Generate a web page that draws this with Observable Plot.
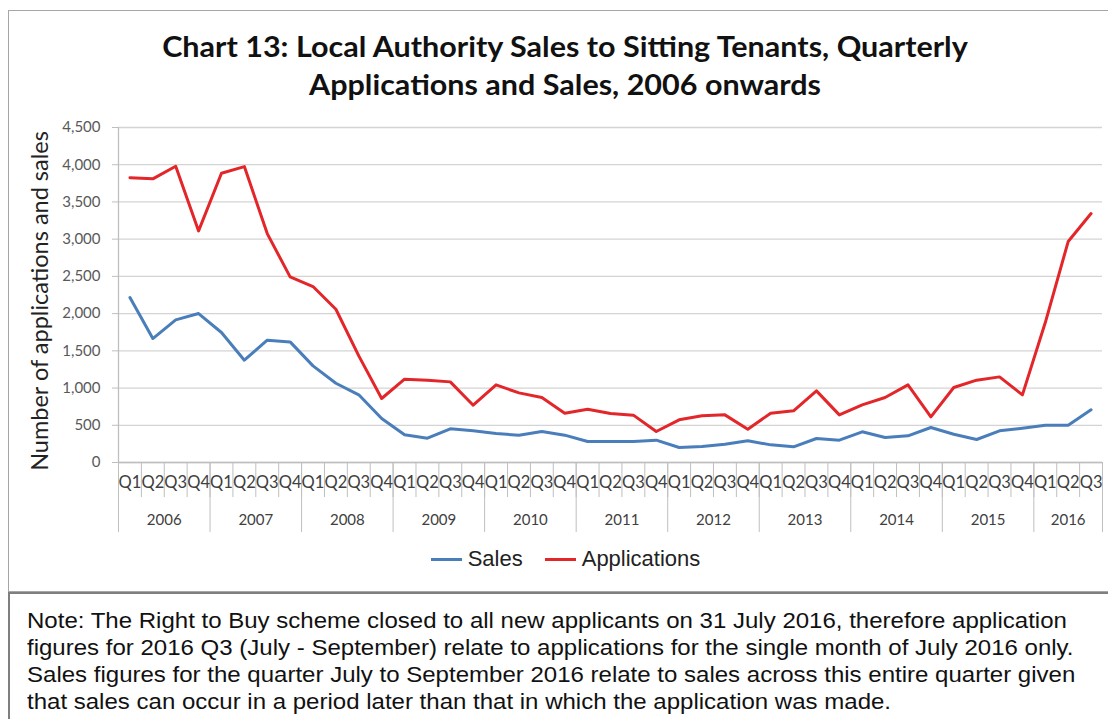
<!DOCTYPE html>
<html>
<head>
<meta charset="utf-8">
<script src="https://cdn.jsdelivr.net/npm/d3@7"></script>
<script src="https://cdn.jsdelivr.net/npm/@observablehq/plot@0.6"></script>
<style>
  html, body { margin: 0; padding: 0; background: #fff; }
  #wrap { position: relative; width: 1108px; height: 719px; overflow: hidden; background: #fff; }
  #frame { position: absolute; left: 8px; top: 10px; width: 1120px; height: 582px; border: 1.5px solid #a6a6a6; box-sizing: border-box; }
  #title { position: absolute; left: 0; width: 1130px; top: 27px; text-align: center; font-family: Lato, sans-serif; font-weight: bold; font-size: 28px; line-height: 38px; color: #111; transform: scaleX(1.09); transform-origin: 565px 0; }
  #ylabel { position: absolute; left: 39px; top: 301px; transform: translate(-50%, -50%) rotate(-90deg); white-space: nowrap; font-family: Lato, sans-serif; font-size: 23.5px; color: #222; }
  #chart { position: absolute; left: 0; top: 0; }
  #legend { position: absolute; left: 0; width: 1131px; top: 546px; text-align: center; font-family: "Liberation Sans", Arial, sans-serif; font-size: 22px; color: #222; }
  #legend span.item { display: inline-block; margin: 0 11px; }
  #legend span.sw { display: inline-block; width: 31px; height: 3px; vertical-align: middle; margin-right: 6px; position: relative; top: -1px; }
  #note { position: absolute; left: 8px; top: 592px; width: 1130px; height: 140px; border-top: 2px solid #7f7f7f; border-left: 2px solid #7f7f7f; box-sizing: border-box; }
  #notetext { position: absolute; left: 17px; top: 13px; white-space: nowrap; font-family: "Liberation Sans", Arial, sans-serif; font-size: 22px; line-height: 27px; color: #111; transform: scaleX(1.092); transform-origin: 0 0; }
</style>
</head>
<body>
<div id="wrap">
  <div id="frame"></div>
  <div id="chart"></div>
  <div id="title">Chart 13: Local Authority Sales to Sitting Tenants, Quarterly<br>Applications and Sales, 2006 onwards</div>
  <div id="ylabel">Number of applications and sales</div>
  <div id="legend"></div>
  <div id="note"><div id="notetext">Note: The Right to Buy scheme closed to all new applicants on 31 July 2016, therefore application<br>figures for 2016 Q3 (July - September) relate to applications for the single month of July 2016 only.<br>Sales figures for the quarter July to September 2016 relate to sales across this entire quarter given<br>that sales can occur in a period later than that in which the application was made.</div></div>
</div>
<script>
// ---- Data ----
const years = ["2006","2007","2008","2009","2010","2011","2012","2013","2014","2015","2016"];
const quarterNames = ["Q1","Q2","Q3","Q4"];
// 2006 Q1 ... 2016 Q3 (43 quarters)
const sales = [
  2216, 1665, 1916, 2001,
  1746, 1374, 1643, 1620,
  1298, 1065, 909, 591,
  372, 327, 452, 425,
  389, 367, 416, 367,
  282, 282, 282, 300,
  201, 215, 246, 291,
  237, 210, 322, 300,
  412, 336, 358, 470,
  380, 309, 425, 461,
  501, 501, 707
];
const applications = [
  3825, 3810, 3980, 3111,
  3886, 3975, 3075, 2493,
  2364, 2059, 1432, 860,
  1119, 1106, 1083, 770,
  1043, 935, 873, 662,
  716, 658, 636, 416,
  573, 627, 640, 448,
  662, 694, 962, 640,
  774, 873, 1043, 613,
  1007, 1106, 1150, 909,
  1880, 2968, 3344
];
const seriesNames = ["Sales", "Applications"];
const seriesColors = ["#4a7ebb", "#e3262a"];
const yTicks = [0, 500, 1000, 1500, 2000, 2500, 3000, 3500, 4000, 4500];

// ---- Build table ----
const n = sales.length;
const rows = [];
seriesNames.forEach((s, k) => {
  const vals = k === 0 ? sales : applications;
  vals.forEach((v, i) => rows.push({ series: s, i, value: v }));
});
const quarterIdx = d3.range(n);
const quarterBounds = d3.range(n + 1).map(i => i - 0.5);
const yearBounds = quarterBounds.filter((b, j) => j % 4 === 0 || j === n);
const yearCenters = years.map((y, k) => (k * 4 + Math.min(k * 4 + 3, n - 1)) / 2);

const chart = Plot.plot({
  width: 1108,
  height: 545,
  marginTop: 127,
  marginBottom: 83,
  marginLeft: 118,
  marginRight: 6,
  style: { fontFamily: "Lato, sans-serif", fontSize: "15px", background: "transparent", color: "#595959" },
  x: { type: "linear", domain: [-0.5, n - 0.5], axis: null },
  y: { domain: [0, 4500], axis: null },
  color: { domain: seriesNames, range: seriesColors },
  marks: [
    Plot.gridY(yTicks, { stroke: "#d4d4d4", strokeOpacity: 1, strokeWidth: 1.3 }),
    Plot.axisY({ ticks: yTicks, tickFormat: d3.format(","), tickSize: 6, tickPadding: 12, stroke: "#bfbfbf", color: "#595959", fontSize: 15, label: null }),
    Plot.ruleX([-0.5], { stroke: "#bfbfbf", strokeWidth: 1.3 }),
    Plot.ruleY([0], { stroke: "#bfbfbf", strokeWidth: 1.3 }),
    Plot.axisX({ ticks: quarterBounds, tickSize: 35, tickFormat: () => "", stroke: "#bfbfbf", label: null }),
    Plot.axisX({ ticks: yearBounds, tickSize: 70, tickFormat: () => "", stroke: "#bfbfbf", label: null }),
    Plot.axisX({ ticks: quarterIdx, tickSize: 0, tickPadding: 14, tickFormat: i => quarterNames[i % 4], fill: "#404040", fontSize: 16.5, label: null }),
    Plot.axisX({ ticks: yearCenters, tickSize: 0, tickPadding: 52, tickFormat: (c, k) => years[k], fill: "#404040", fontSize: 15, label: null }),
    Plot.line(rows, { x: "i", y: "value", stroke: "series", z: "series", strokeWidth: 3, strokeLinejoin: "round", strokeLinecap: "round" })
  ]
});
document.getElementById("chart").appendChild(chart);

// ---- Legend ----
const legend = document.getElementById("legend");
seriesNames.forEach((s, k) => {
  const item = document.createElement("span");
  item.className = "item";
  const sw = document.createElement("span");
  sw.className = "sw";
  sw.style.background = seriesColors[k];
  item.appendChild(sw);
  item.appendChild(document.createTextNode(s));
  legend.appendChild(item);
});
</script>
</body>
</html>
